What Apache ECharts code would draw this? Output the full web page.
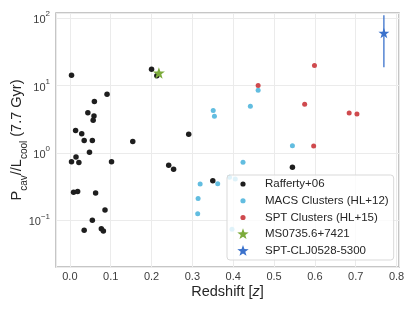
<!DOCTYPE html>
<html><head><meta charset="utf-8">
<script src="https://cdn.jsdelivr.net/npm/echarts@6/dist/echarts.min.js"></script>
<style>html,body{margin:0;padding:0;background:#fff}#c{width:415px;height:312px}</style>
</head><body><div id="c"></div>
<script>
// ---- data ----
const raffertyX = [0.004,0.200,0.213,0.091,0.060,0.044,0.059,0.057,0.014,0.029,0.035,0.055,0.154,0.291,0.048,0.015,0.004,0.022,0.102,0.242,0.254,0.009,0.019,0.063,0.086,0.055,0.035,0.077,0.082,0.350,0.545];
const raffertyY = [14.1,17.3,13.9,7.38,5.75,3.92,3.51,3.05,2.14,1.91,1.52,1.52,1.47,1.89,1.02,0.867,0.735,0.716,0.735,0.653,0.569,0.259,0.267,0.253,0.142,0.0997,0.0708,0.0745,0.0691,0.385,0.609];
const macsX = [0.461,0.351,0.354,0.442,0.545,0.424,0.319,0.362,0.391,0.405,0.314,0.313,0.397];
const macsY = [8.46,4.23,3.48,4.90,1.27,0.723,0.344,0.347,0.433,0.407,0.209,0.125,0.0733];
const sptX = [0.599,0.461,0.575,0.684,0.703,0.597];
const sptY = [19.7,10.0,5.25,3.89,3.76,1.26];
const ms0735X = [0.218];
const ms0735Y = [15.3];
const sptcljX = [0.769];
const sptcljY = [59.9];
const sptcljErrLo = [18.6];
const sptcljErrHi = [109.6];
const seriesNames = ['Rafferty+06','MACS Clusters (HL+12)','SPT Clusters (HL+15)','MS0735.6+7421','SPT-CLJ0528-5300'];

const pairs = (xs, ys) => xs.map((x, i) => [x, ys[i]]);

const FONT = '"Liberation Sans", Arial, sans-serif';
const C_BLACK = '#1e1e1e', C_CYAN = '#62bde0', C_RED = '#cf4a4e', C_GREEN = '#7cab3b', C_BLUE = '#3b72cc';
const STAR = 'path://M0,-10L2.35,-3.24L9.51,-3.09L3.80,1.24L5.88,8.09L0,4L-5.88,8.09L-3.80,1.24L-9.51,-3.09L-2.35,-3.24Z';
const LEG_DOT = 'path://M7.4,6a2.6,2.6 0 1,0 5.2,0a2.6,2.6 0 1,0 -5.2,0ZM0,0M27,12';
const LEG_STAR = 'path://M10,0L11.41,4.06L15.71,4.15L12.28,6.74L13.53,10.85L10,8.4L6.47,10.85L7.72,6.74L4.29,4.15L8.59,4.06ZM0,0M27,12';

const chart = echarts.init(document.getElementById('c'), null, {renderer: 'canvas'});
chart.setOption({
  animation: false,
  backgroundColor: '#fff',
  grid: {left: 56, right: 16, top: 13, bottom: 45, outerBoundsMode: 'none', containLabel: false,
    show: true, borderColor: '#b4b4b4', borderWidth: 1.5, backgroundColor: '#fff'},
  xAxis: {
    type: 'value', min: -0.034, max: 0.806, splitNumber: 8,
    axisLine: {show: false}, axisTick: {show: false},
    splitLine: {show: true, lineStyle: {color: '#ebebeb', width: 1}},
    axisLabel: {margin: 4, fontFamily: FONT, fontSize: 11, color: '#3c3c3c', showMinLabel: false, showMaxLabel: false,
      formatter: v => v.toFixed(1)},
    name: '{a|Redshift [}{i|z}{a|]}', nameLocation: 'middle', nameGap: 17, nameMoveOverlap: false,
    nameTextStyle: {rich: {a: {fontFamily: FONT, fontSize: 14.5, color: '#262626'}, i: {fontFamily: FONT, fontSize: 14.5, fontStyle: 'italic', color: '#262626'}}}
  },
  yAxis: {
    type: 'log', logBase: 10, min: 0.0202, max: 118.6,
    axisLine: {show: false}, axisTick: {show: false},
    splitLine: {show: true, lineStyle: {color: '#ebebeb', width: 1}},
    minorSplitLine: {show: false},
    axisLabel: {margin: 6, showMinLabel: false, showMaxLabel: false,
      formatter: v => { const e = Math.round(Math.log10(v)); return '{b|10}{p|' + (e < 0 ? '\u2212' + (-e) : e) + '}'; },
      rich: {b: {fontFamily: FONT, fontSize: 11, color: '#3c3c3c', lineHeight: 15.5, verticalAlign: 'bottom'},
             p: {fontFamily: FONT, fontSize: 8, color: '#3c3c3c', lineHeight: 8, verticalAlign: 'top'}}},
    name: '{a|P}{s|cav}{a|//L}{s|cool}{a| (7.7 Gyr)}', nameLocation: 'middle', nameRotate: 90, nameGap: 27, nameMoveOverlap: false,
    nameTextStyle: {rich: {
      a: {fontFamily: FONT, fontSize: 14.5, color: '#262626', lineHeight: 20, verticalAlign: 'top'},
      s: {fontFamily: FONT, fontSize: 10, color: '#262626', lineHeight: 10, verticalAlign: 'bottom'}}}
  },
  legend: {
    orient: 'vertical', left: 227, top: 175, selectedMode: false,
    padding: [3, 5, 3, 6], itemGap: 4.75, itemWidth: 27, itemHeight: 12,
    backgroundColor: 'rgba(255,255,255,0.8)', borderColor: '#d9d9d9', borderWidth: 1, borderRadius: 3,
    textStyle: {fontFamily: FONT, fontSize: 11.5, color: '#262626'},
    data: [
      {name: seriesNames[0], icon: LEG_DOT},
      {name: seriesNames[1], icon: LEG_DOT},
      {name: seriesNames[2], icon: LEG_DOT},
      {name: seriesNames[3], icon: LEG_STAR},
      {name: seriesNames[4], icon: LEG_STAR}
    ]
  },
  series: [
    {name: seriesNames[0], type: 'scatter', symbol: 'circle', symbolSize: 5.5, itemStyle: {color: C_BLACK, opacity: 1}, data: pairs(raffertyX, raffertyY), z: 2},
    {name: seriesNames[1], type: 'scatter', symbol: 'circle', symbolSize: 5, itemStyle: {color: C_CYAN, opacity: 1}, data: pairs(macsX, macsY), z: 3},
    {name: seriesNames[2], type: 'scatter', symbol: 'circle', symbolSize: 5, itemStyle: {color: C_RED, opacity: 1}, data: pairs(sptX, sptY), z: 4},
    {name: seriesNames[3], type: 'scatter', symbol: STAR, symbolKeepAspect: true, symbolSize: 12, itemStyle: {color: C_GREEN, opacity: 1}, data: pairs(ms0735X, ms0735Y), z: 5},
    {name: 'errbar', type: 'line', showSymbol: false, symbol: 'none', lineStyle: {color: C_BLUE, width: 1.3}, data: [[sptcljX[0], sptcljErrLo[0]], [sptcljX[0], sptcljErrHi[0]]], z: 5},
    {name: seriesNames[4], type: 'scatter', symbol: STAR, symbolKeepAspect: true, symbolSize: 11, itemStyle: {color: C_BLUE, opacity: 1}, data: pairs(sptcljX, sptcljY), z: 6}
  ]
});
</script>
</body></html>
